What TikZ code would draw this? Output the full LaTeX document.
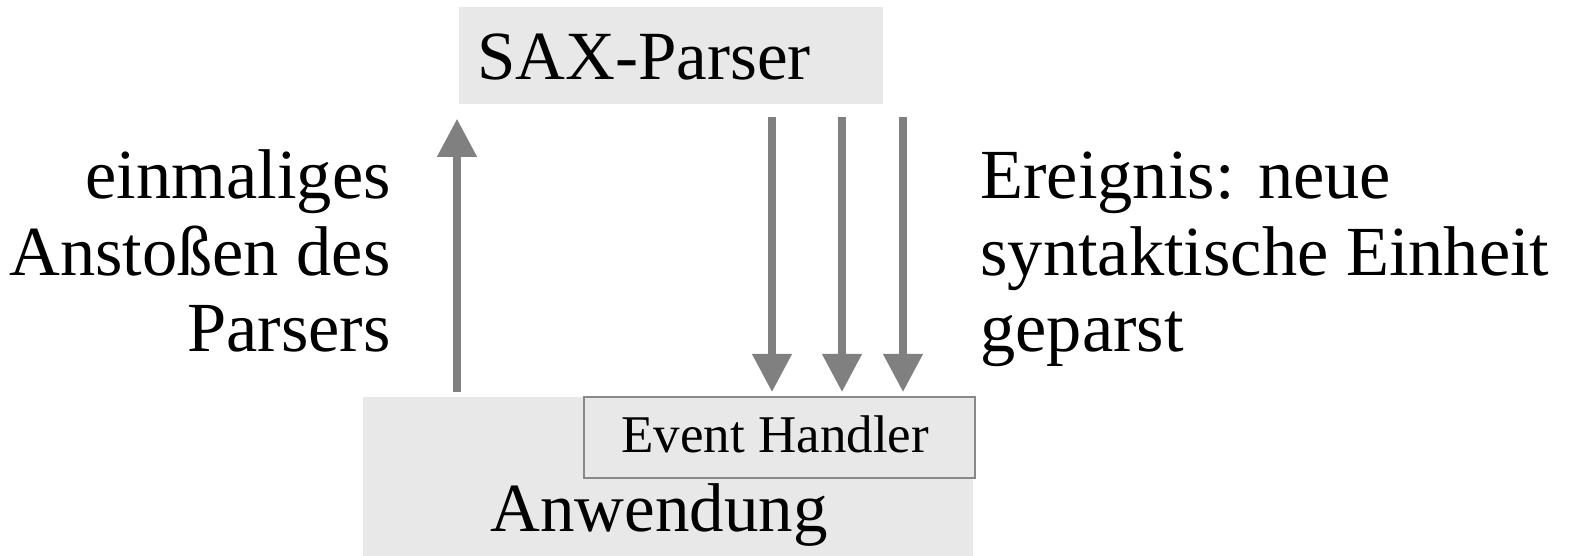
\documentclass[tikz,border=0pt]{standalone}
\usepackage{fontspec}
\setmainfont{Liberation Serif}
\usetikzlibrary{arrows.meta}

\definecolor{boxgray}{HTML}{E8E8E8}
\definecolor{arrowgray}{HTML}{808080}
\definecolor{framegray}{HTML}{888888}

\tikzset{
  box/.style={fill=boxgray, inner sep=0pt},
  boxtext/.style={inner sep=0pt, font=\fontsize{34.5pt}{38pt}\selectfont},
  ehtext/.style={inner sep=0pt, font=\fontsize{26.5pt}{30pt}\selectfont},
  note/.style={inner sep=0pt, font=\fontsize{35.2pt}{38.25pt}\selectfont},
  flow/.style={draw=arrowgray, line width=3.7pt,
    -{Triangle[width=19pt,length=19pt]}}
}

\begin{document}
\begin{tikzpicture}[x=0.5pt, y=0.5pt]
  \useasboundingbox (0, 0) rectangle (1573, 556);

  \node[box, minimum width=212pt, minimum height=48.5pt, anchor=north west] (sax) at (459, 549) {};
  \node[box, minimum width=305pt, minimum height=79.5pt, anchor=south west] (anw) at (363, 0) {};
  \node[box, draw=framegray, line width=1.2pt, minimum width=195.5pt,
        minimum height=40.5pt, anchor=north west] (eh) at (583, 160) {};

  \node[boxtext, anchor=base west] (sax-text) at (477, 476) {SAX-Parser};
  \node[boxtext, anchor=base west] (anw-text) at (490, 24) {Anwendung};
  \node[ehtext, anchor=base west] (eh-text) at (621, 103) {Event Handler};

  \node[note, align=right, anchor=base east] (start-text) at (391, 204)
        {einmaliges\\Anstoßen des\\Parsers};
  \node[note, align=left, anchor=base west] (event-text) at (980, 204)
        {Ereignis: neue\\syntaktische Einheit\\geparst};

  \draw[flow] ([xshift=47pt, yshift=2pt]anw.north west) -- ([xshift=-1pt, yshift=-7pt]sax.south west);

  \draw[flow] ([xshift=156.5pt, yshift=-6pt]sax.south west) -- ([xshift=94.5pt, yshift=2pt]eh.north west);
  \draw[flow] ([xshift=191.5pt, yshift=-6pt]sax.south west) -- ([xshift=129.5pt, yshift=2pt]eh.north west);
  \draw[flow] ([xshift=222pt, yshift=-6pt]sax.south west) -- ([xshift=160pt, yshift=2pt]eh.north west);

\end{tikzpicture}
\end{document}
